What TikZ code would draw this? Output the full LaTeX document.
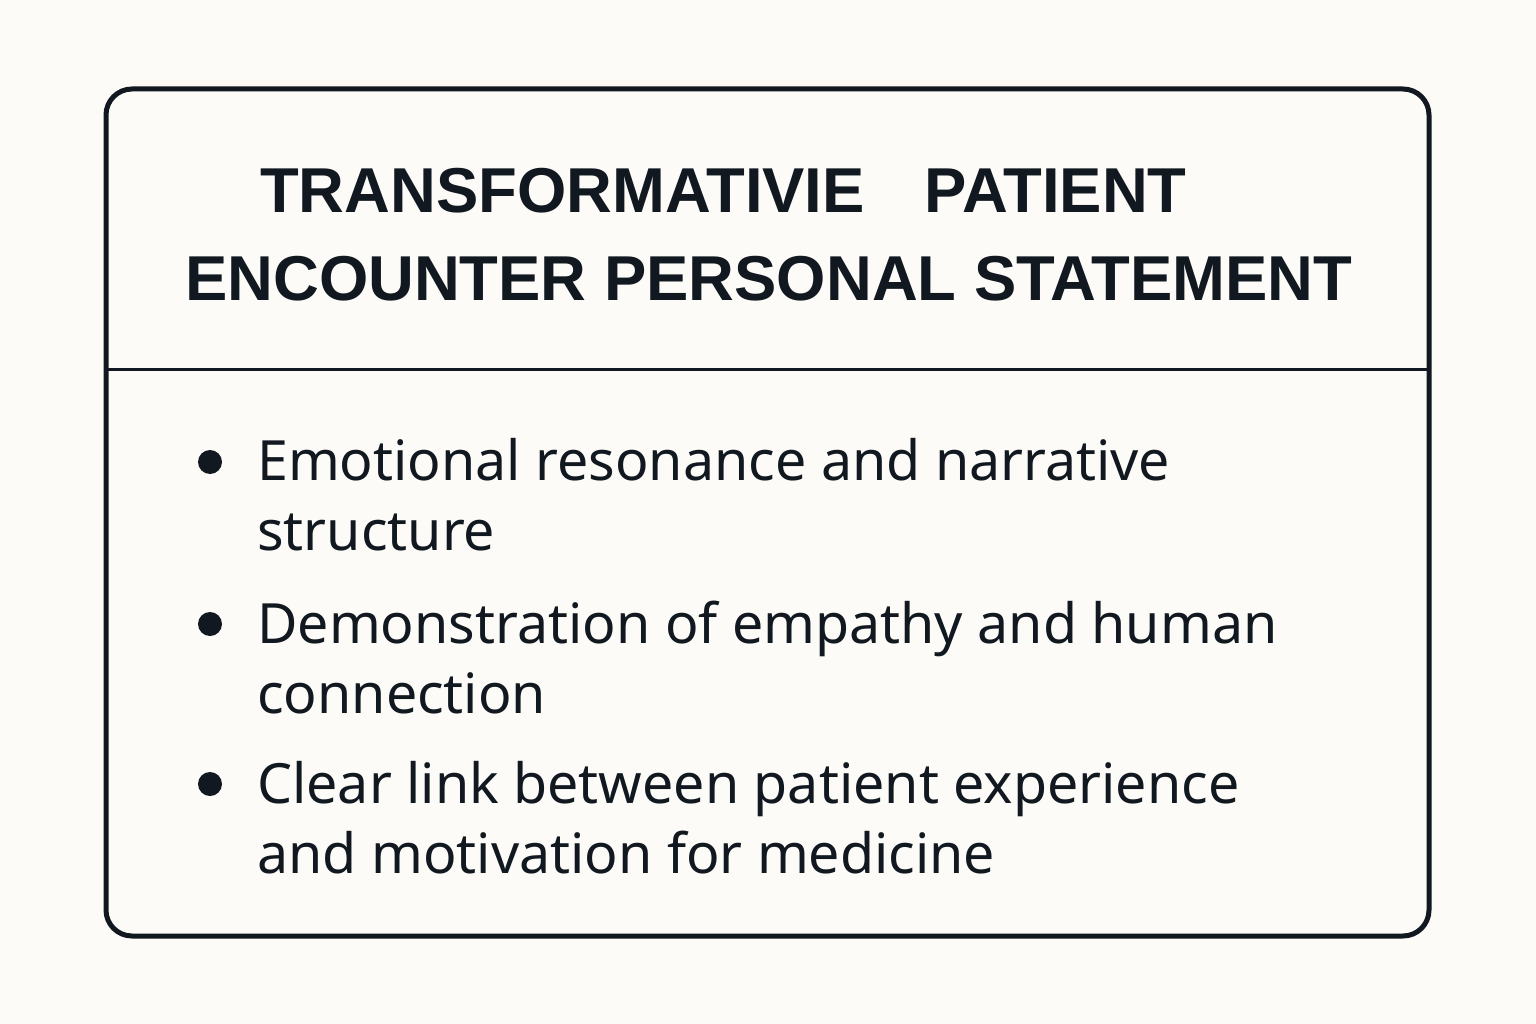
\documentclass[tikz,border=0pt]{standalone}
\usepackage{fontspec}
\setmainfont{Noto Sans}
\newfontfamily\titlefont{Liberation Sans}
\definecolor{bg}{HTML}{FCFBF7}
\definecolor{ink}{HTML}{111820}
\begin{document}
\begin{tikzpicture}[x=1pt,y=-1pt,
  title/.style={anchor=base west,inner sep=0pt,font=\titlefont\bfseries\fontsize{63.4}{63.4}\selectfont,text=ink},
  body/.style={anchor=base west,inner sep=0pt,font=\fontsize{55.5}{55.5}\selectfont,text=ink},
  dot/.style={circle,fill=ink,inner sep=0pt,minimum size=24pt}]
\fill[bg] (0,0) rectangle (1536,1024);
\useasboundingbox (0,0) rectangle (1536,1024);
\draw[ink,line width=5pt,rounded corners=26pt] (106,89) rectangle (1429,936);
\draw[ink,line width=3pt] (106,369) -- (1429,369);
\node[title] (t1) at (260,213) {TRANSFORMATIVIE\hspace{60pt}PATIENT};
\node[title] (t2) at (185,300) {ENCOUNTER PERSONAL STATEMENT};
\node[dot] (d1) at (210,462) {};
\node[dot] (d2) at (210,624) {};
\node[dot] (d3) at (210,784) {};
\node[body] (b1) at (257,480) {Emotional resonance and narrative};
\node[body] (b1b) at (257,550) {structure};
\node[body] (b2) at (257,643) {Demonstration of empathy and human};
\node[body] (b2b) at (257,713) {connection};
\node[body] (b3) at (257,803) {Clear link between patient experience};
\node[body] (b3b) at (257,873) {and motivation for medicine};
\end{tikzpicture}
\end{document}
